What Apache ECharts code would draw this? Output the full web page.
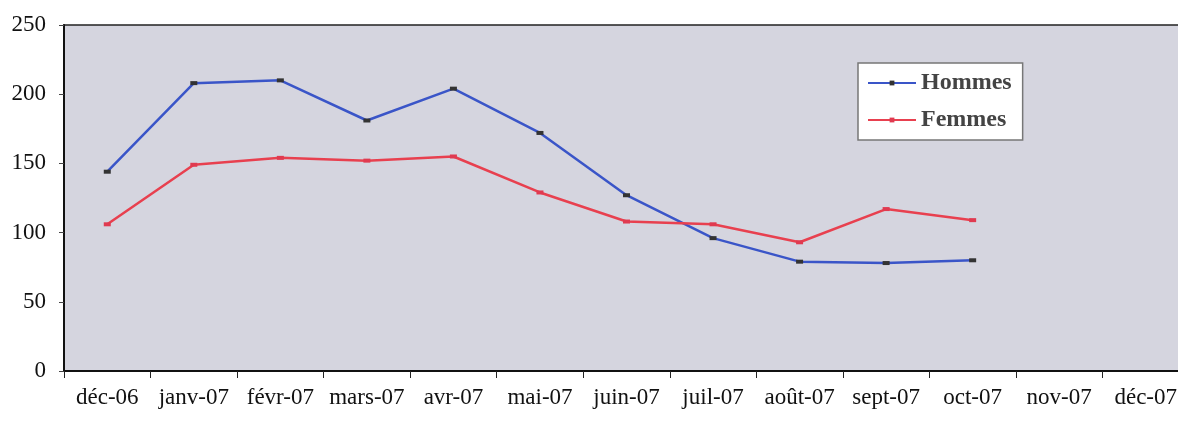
<!DOCTYPE html>
<html>
<head>
<meta charset="utf-8">
<script src="https://cdn.jsdelivr.net/npm/echarts@6/dist/echarts.min.js"></script>
<style>html,body{margin:0;padding:0;background:#fff}#c{width:1178px;height:424px}</style>
</head>
<body>
<div id="c"></div>
<script>
const categories = ['déc-06','janv-07','févr-07','mars-07','avr-07','mai-07','juin-07','juil-07','août-07','sept-07','oct-07','nov-07','déc-07'];
const hommes = [144, 208, 210, 181, 204, 172, 127, 96, 79, 78, 80, null, null];
const femmes = [106, 149, 154, 152, 155, 129, 108, 106, 93, 117, 109, null, null];
const yTicks = [0, 50, 100, 150, 200, 250];

const chart = echarts.init(document.getElementById('c'));
const serif = '"Liberation Serif", "DejaVu Serif", serif';
chart.setOption({
  animation: false,
  backgroundColor: '#ffffff',
  grid: {
    left: 64, top: 25, bottom: 53, width: 1125,
    outerBoundsMode: 'none',
    containLabel: false,
    show: true, backgroundColor: '#d5d5df', borderColor: '#222', borderWidth: 1.5
  },
  legend: {
    orient: 'vertical',
    left: 858, top: 63,
    width: 163,
    padding: [8, 11, 8, 9],
    itemGap: 13,
    itemWidth: 48, itemHeight: 6,
    backgroundColor: '#ffffff',
    borderColor: '#777',
    borderWidth: 1.5,
    textStyle: { fontFamily: serif, fontSize: 24, fontWeight: 'bold', color: '#444' },
    data: ['Hommes', 'Femmes']
  },
  xAxis: {
    type: 'category',
    data: categories,
    boundaryGap: true,
    axisLine: { lineStyle: { color: '#111', width: 2 } },
    axisTick: { show: true, length: 7, lineStyle: { color: '#222' } },
    axisLabel: { fontFamily: serif, fontSize: 23, color: '#111', margin: 15, interval: 0 },
    splitLine: { show: false }
  },
  yAxis: {
    type: 'value',
    min: 0, max: 250, interval: 50,
    axisLine: { show: true, lineStyle: { color: '#111', width: 2 } },
    axisTick: { show: true, length: 5, lineStyle: { color: '#444' } },
    axisLabel: { fontFamily: serif, fontSize: 23, color: '#111', margin: 18,
      formatter: v => yTicks.includes(v) ? String(v) : '' },
    splitLine: { show: false }
  },
  series: [
    {
      name: 'Hommes', type: 'line', data: hommes,
      symbol: 'rect', symbolSize: [7, 4], showSymbol: true,
      itemStyle: { color: '#333' },
      lineStyle: { color: '#3a55c8', width: 2.5 },
      color: '#3a55c8'
    },
    {
      name: 'Femmes', type: 'line', data: femmes,
      symbol: 'rect', symbolSize: [7, 4],
      itemStyle: { color: '#e03a50' },
      lineStyle: { color: '#e8404f', width: 2.5 },
      color: '#e8404f'
    }
  ]
});
</script>
</body>
</html>
